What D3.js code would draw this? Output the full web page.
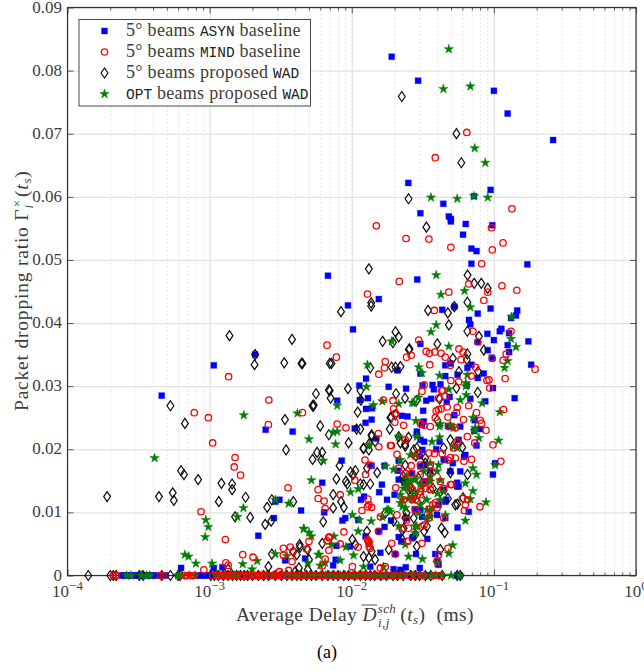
<!DOCTYPE html>
<html>
<head>
<meta charset="utf-8">
<script src="https://cdn.jsdelivr.net/npm/d3@7"></script>
<style>
  html, body { margin: 0; padding: 0; background: #fff; }
  text { font-family: "Liberation Serif", serif; }
  .mono { font-family: "Liberation Mono", monospace; }
</style>
</head>
<body>
<svg id="chart" width="644" height="671"></svg>
<script>
// [delay ms, dropping ratio]
const asynPoints = [
  [.0191,.0822],[.0293,.0784],[.1,.0768],[.125,.0732],[.261,.069],[.025,.0622],[.0948,.0611],[.0725,.0601],[.0441,.0589],[.0304,.0574],
  [.0482,.0569],[.0498,.0565],[.0498,.0561],[.0634,.0557],[.0975,.0555],[.0607,.054],[.0695,.0518],[.0755,.0514],[.0695,.0494],[.172,.0493],
  [.0068,.0475],[.0289,.0469],[.0155,.0438],[.0094,.0428],[.0102,.039],[.0304,.0367],[.021,.0325],[.0126,.0312],[.0113,.0301],[.0182,.0299],
  [.0241,.0296],[.0315,.0301],[.037,.0302],[.0421,.0303],[.0455,.0333],[.0455,.0316],[.0433,.0421],[.0527,.0426],[.0948,.0423],[.077,.0415],
  [.0668,.0405],[.0683,.0398],[.146,.042],[.143,.0412],[.132,.0408],[.113,.0391],[.11,.0387],[.09,.0383],[.128,.0384],[.1,.0373],
  [.077,.037],[.175,.0371],[.125,.0365],[.0905,.0357],[.128,.0354],[.0967,.0345],[.183,.0334],[.0494,.0336],[.0695,.0334],[.0651,.0329],
  [.0848,.032],[.077,.0313],[.0555,.0318],[.0645,.0301],[.0985,.0297],[.14,.0281],[.0304,.032],[.0378,.0295],[.087,.0276],[.0683,.028],
  [.0488,.0283],[.0362,.028],[.0334,.0277],[.0466,.0275],[.013,.0281],[.0114,.0278],[.0079,.0277],[.0126,.0264],[.0139,.0265],[.0318,.0261],
  [.0225,.0253],[.0247,.0252],[.0527,.0254],[.0321,.0244],[.0138,.0247],[.0125,.0242],[.0733,.0246],[.0802,.0232],[.0727,.0229],[.058,.0236],
  [.0475,.0237],[.0312,.0239],[.0287,.0228],[.0287,.0223],[.0105,.0233],[.0149,.0217],[.0304,.0215],[.0415,.0212],[.0565,.0215],[.0755,.0206],
  [.0393,.02],[.0314,.0199],[.0301,.0189],[.063,.0191],[.0443,.0184],[.0514,.0178],[.0616,.0188],[.0214,.0182],[.0085,.0182],[.102,.0178],
  [.0985,.016],[.058,.0165],[.0494,.0165],[.0138,.0174],[.017,.0174],[.0211,.0166],[.0304,.0173],[.0357,.0166],[.0329,.0149],[.0214,.0152],
  [.0163,.0144],[.0156,.0132],[.02,.0128],[.0552,.0147],[.0565,.0141],[.0443,.0136],[.0462,.012],[.0116,.012],[.0122,.0125],[.0177,.012],
  [.0278,.0105],[.0243,.0091],[.0189,.0087],[.017,.0077],[.0156,.007],[.009,.0091],[.0086,.0087],[.0111,.0088],[.0665,.0101],[.0555,.0076],
  [.0455,.0091],[.027,.0061],[.034,.0058],[.0125,.0062],[.0214,.0061],[.0223,.0054],[.0097,.0046],[.0078,.0047],[.0159,.0036],[.0201,.0034],
  [.0283,.0034],[.0387,.0034],[.0135,.0014],[.0074,.0016],[.0077,.0025],[.0197,.001],[.022,.0009],[.024,.0013],[.0301,.0012],[.0402,.0022],
  [.00046,.0285],[.00107,.0333],[.00209,.035],[.00248,.0231],[.00384,.0228],[.0062,.0147],[.0064,.01],[.0044,.0103],[.0031,.012],[.0029,.0117],
  [.00283,.0091],[.0022,.0063],[.0047,.0027],[.0034,.0024],[.00123,.0013],[.00107,.0012],[.00063,.0012],
  [.0323,.0212],[.0455,.0183],[.0323,.0175],[.0266,.0162],[.0238,.0149],[.0552,.0141],[.0455,.0117],[.0408,.0112],[.0304,.0104],[.028,.0104],
  [.0312,.0093],[.0398,.0096],[.0266,.0059],[.0408,.0017]
]
const asynZero = [
  .00024,.00025,.00026,.00027,.00028,.0003,.00031,.00033,.00034,.00036,.00038,.0004,.00042,.00047,.00049,.00083,.00088,.00092,.00097,.00102,
  .00108,.00115,.00122,.0013,.00138,.00145,.00155,.00165,.00175,.00185,.00195,.0021,.0022,.0024,.0026,.0028,.003,.0032,.0034,.0036,
  .0038,.0041,.0044,.0047,.005,.0053,.0057,.006,.0064,.0068,.0072,.0077,.0082,.0088,.0094,.01,.0106,.0112,.0119,.0126,
  .0134,.0142,.0151,.0165,.018,.0195,.021,.023,.026,.029,.034,.0395,.055,.057
]

const mindPoints = [
  [.0645,.0702],[.0387,.0662],[.134,.0581],[.0149,.0554],[.0241,.0534],[.0349,.0533],[.0498,.052],[.0962,.0551],[.116,.0527],[.0975,.0516],
  [.082,.0494],[.0216,.0466],[.0665,.0462],[.114,.0459],[.145,.0452],[.0482,.0449],[.0129,.0446],[.0905,.0449],[.085,.0436],[.0381,.042],
  [.0067,.0365],[.0078,.0346],[.0296,.0373],[.0262,.0349],[.0243,.0346],[.0172,.0339],[.017,.0329],[.0155,.0319],[.0354,.0334],[.0334,.0355],
  [.0352,.0352],[.0384,.0354],[.0425,.0352],[.0455,.0346],[.0323,.0302],[.0712,.0387],[.132,.0387],[.0772,.037],[.0568,.0359],[.0607,.0354],
  [.122,.0351],[.0975,.0344],[.116,.0341],[.0588,.0342],[.0494,.0333],[.0745,.033],[.12,.0312],[.0693,.0316],[.0893,.0309],[.0925,.031],
  [.0565,.0307],[.0498,.0309],[.0429,.0293],[.0935,.0297],[.195,.0327],[.117,.0263],[.112,.0181],[.0985,.0207],[.0798,.0109],[.0697,.0184],
  [.088,.023],[.0802,.0246],[.0755,.0258],[.0733,.021],[.0651,.022],[.0611,.0247],[.0665,.0269],[.0546,.0258],[.0469,.0267],[.0475,.0251],
  [.0455,.0284],[.0408,.0263],[.0387,.025],[.0437,.0293],[.0312,.0292],[.0167,.0278],[.0195,.0277],[.0197,.0264],[.0203,.0257],[.0201,.0243],
  [.0232,.0238],[.0154,.0225],[.0155,.0204],[.0187,.0206],[.0091,.0234],[.0079,.024],[.0124,.0183],[.0135,.0175],[.0208,.0192],[.0238,.0215],
  [.0295,.0194],[.0349,.0194],[.0381,.0193],[.0475,.0183],[.0494,.0187],[.0616,.0181],[.0262,.0162],[.0214,.017],[.0125,.016],[.0105,.0151],
  [.0083,.0128],[.013,.0121],[.0118,.0103],[.0129,.0109],[.0204,.0139],[.0304,.0133],[.0357,.0137],[.042,.0149],[.0505,.0144],[.06,.0122],
  [.0653,.012],[.062,.0103],[.0387,.0115],[.0349,.0105],[.0266,.012],[.0208,.0096],[.0159,.0093],[.028,.0104],[.0443,.0091],[.0312,.0078],
  [.0251,.0075],[.0154,.007],[.0088,.0069],[.0129,.0057],[.0132,.0051],[.0133,.0045],[.0191,.0051],[.0247,.0054],[.0312,.0051],[.0475,.0043],
  [.0203,.0034],[.0408,.0033],[.0398,.0023],[.0101,.0014],[.0159,.0012],[.007,.0061],[.00136,.0315],[.00261,.0278],[.00259,.0239],[.0045,.0258],
  [.00078,.0258],[.00098,.025],[.00105,.021],[.00151,.0187],[.00149,.0172],[.00165,.0159],[.00356,.0139],[.0058,.0136],[.0058,.0122],[.0064,.0118],
  [.0065,.0106],[.00087,.0101],[.00129,.0057],[.00171,.0033],[.00202,.0029],[.0013,.002],[.00135,.0016],[.00091,.0009],[.0033,.0043],[.0037,.0045],
  [.0033,.0032],[.00385,.0038],[.0038,.0022],[.0048,.0042],[.005,.0054],[.0067,.0055],[.0069,.0061],[.0069,.004],[.0065,.0026],[.0062,.0015],
  [.0031,.0006],[.0036,.0008],
  [.0408,.0281],[.0393,.0261],[.0425,.0264],[.0552,.0266],[.082,.0241],[.0482,.0236],[.0535,.0234],[.0304,.0241],[.0323,.0238],[.0357,.0236],
  [.0552,.0212],[.052,.0202],[.0433,.0193],[.0535,.0186],[.028,.0189],[.0262,.0174],[.0238,.0162],[.0304,.0175],[.0357,.0175],[.0372,.0164],
  [.0304,.016],[.0349,.015],[.0323,.0146],[.0262,.0139],[.0304,.0128],[.0329,.0138],[.0357,.0136],[.0443,.0138],[.0494,.0144],[.063,.0112],
  [.0372,.0112],[.0398,.0107],[.028,.012],[.0232,.012],[.0349,.0091],[.0323,.008],[.0243,.0088],[.0227,.0075],[.019,.0206],[.0132,.0112],
  [.0138,.0108],[.0069,.006],[.0083,.005],[.0111,.0045],[.0135,.0043],[.0132,.0054],[.0172,.0014]
]
const mindZero = [
  .00021,.00022,.00045,.00047,.00067,.0007,.00073,.00077,.00105,.00112,.00118,.00124,.0013,.00135,.0014,.00146,.00155,.00165,.00172,.00185,
  .002,.0021,.00225,.0024,.0026,.0028,.003,.0032,.0035,.0038,.0041,.0044,.0048,.0052,.0057,.0062,.0068,.0075,.0082,.009,
  .0098,.0108,.0118,.0126,.0138,.015,.0165,.0185,.0205,.0225,.0255,.028,.032,.038,.042
]

const wadPoints = [
  [.0225,.0759],[.0545,.07],[.059,.0654],[.0251,.0597],[.0335,.0552],[.0132,.0486],[.0653,.0476],[.0727,.0463],[.0815,.0463],[.0905,.0455],
  [.0651,.0433],[.0527,.0426],[.0344,.042],[.0475,.0416],[.0482,.0397],[.0651,.0387],[.0785,.0379],[.04,.0367],[.085,.0357],[.0515,.0344],
  [.0651,.0351],[.0645,.0342],[.0255,.0359],[.0568,.0323],[.0775,.0323],[.022,.0331],[.0137,.0432],[.0137,.0427],[.0084,.0418],[.0045,.0336],
  [.0072,.0336],[.0203,.0386],[.0214,.0378],[.0195,.0369],[.0165,.0371],[.0252,.0358],[.0191,.033],[.0203,.033],[.0135,.0329],[.0069,.0294],
  [.0094,.0296],[.0056,.0288],[.007,.0293],[.0071,.0281],[.0053,.0269],[.00535,.0268],[.0054,.027],[.006,.0237],[.0069,.0223],[.011,.0259],
  [.0108,.0232],[.0115,.0232],[.0095,.021],[.0057,.0195],[.0062,.0195],[.0053,.0184],[.0061,.0183],[.0082,.0174],[.0121,.0201],[.0132,.0199],
  [.0138,.0223],[.0146,.0212],[.0187,.025],[.0185,.0232],[.0203,.0255],[.0098,.0164],[.0102,.016],[.0106,.0166],[.0091,.0149],[.0093,.0145],
  [.0078,.0153],[.0074,.0128],[.0084,.0117],[.0088,.0108],[.0074,.0107],[.0063,.0085],[.0115,.0145],[.0121,.0144],[.0135,.0145],[.0151,.0163],
  [.0128,.017],[.0101,.0057],[.0106,.0049],[.0121,.003],[.0132,.0028],[.0138,.0038],[.0146,.0025],[.0043,.0049],[.0049,.0041],[.005,.0025],
  [.00138,.038],[.0038,.0374],[.00207,.0334],[.00335,.0337],[.00443,.0336],[.007,.0336],[.00209,.035],[.00053,.0269],[.00067,.0241],[.00339,.0247],
  [.00345,.0199],[.00063,.0166],[.00066,.016],[.00083,.0152],[.00121,.0146],[.00144,.0145],[.00144,.0136],[.00019,.0125],[.00044,.0125],[.00055,.0131],
  [.00056,.0119],[.00116,.0117],[.00179,.0124],[.00151,.0093],[.00193,.0092],[.00254,.0108],[.00274,.012],[.00388,.0117],[.00246,.0081],[.00271,.0086],
  [.0062,.0051],[.00274,.0034],[.00433,.0045],[.00388,.0038],[.0041,.0033],[.00259,.0014],[.00425,.0012],[.004,.0006],[.0049,.0009],[.00135,.001],
  [.0115,.0293],[.0205,.0288],[.0237,.0281],[.0285,.0277],[.0415,.028],[.0545,.0297],[.077,.029],[.04,.0246],[.019,.0251],[.0116,.0278],
  [.0138,.0221],[.0251,.0219],[.0237,.0208],[.0214,.022],[.0121,.0202],[.0133,.0209],[.0283,.0189],[.0273,.0199],[.0329,.0178],[.06,.0203],
  [.0251,.0136],[.023,.0157],[.0494,.0163],[.0552,.0113],[.0607,.0123],[.0428,.0075],[.0451,.0068],[.0338,.0078],[.0227,.0072],[.0128,.007],
  [.0197,.0086],[.0172,.0099],[.0182,.0041],[.042,.0041],[.0287,.0046],[.0653,.016],[.0535,.0112],
  [.022,.021],[.0238,.0205],[.0287,.0202],[.0329,.0186],[.0443,.0202],[.0494,.0215],[.0565,.021],[.0238,.0175],[.0232,.0149],[.0258,.0138],
  [.0273,.0125],[.0295,.0154],[.0357,.016],[.042,.0133],[.0475,.0122],[.0372,.0138],[.0312,.0122],[.0238,.0091],[.0273,.0091],[.0232,.0075],
  [.0227,.0057],[.028,.0065],[.0323,.007],[.0243,.0099]
]
const wadZero = [
  .00014,.0002,.00021,.00022,.00032,.00034,.00046,.00053,.0006,.00062,.00102,.00108,.00115,.00125,.00135,.00145,.00155,.00165,.00175,.00185,
  .002,.0022,.0024,.0026,.0029,.0032,.0035,.0038,.0041,.0044,.0048,.0052,.0056,.0062,.0068,.0074,.008,.0088,.0095,.0105,
  .0115,.0125,.0135,.0145,.016,.0175,.0195,.021,.023,.026,.028,.03,.033,.036,.0433,.0552,.058
]

const optPoints = [
  [.0482,.0834],[.0441,.0771],[.0683,.0775],[.0733,.0677],[.087,.0654],[.0361,.0599],[.0552,.0597],[.0725,.0601],[.0905,.0599],[.0393,.0476],
  [.0622,.0451],[.0424,.0445],[.0393,.0397],[.0361,.0386],[.0191,.0371],[.0482,.0363],[.0129,.0334],[.0296,.033],[.0312,.0321],[.0415,.0317],
  [.0127,.0299],[.0482,.0295],[.0683,.0425],[.133,.041],[.132,.0375],[.143,.0362],[.125,.034],[.119,.0329],[.0651,.0318],[.0635,.0305],
  [.0635,.03],[.0639,.0286],[.0295,.0282],[.0266,.0274],[.0164,.0276],[.0142,.027],[.058,.0278],[.0826,.0273],[.0214,.0272],[.0079,.0269],
  [.11,.0259],[.0712,.025],[.0733,.0229],[.0785,.0218],[.108,.0214],[.0415,.0236],[.052,.0234],[.0283,.0245],[.0214,.022],[.0133,.0207],
  [.0077,.0208],[.0074,.0227],[.0287,.022],[.0367,.0212],[.052,.0204],[.0258,.0191],[.0357,.0178],[.0172,.0173],[.022,.0183],[.102,.0175],
  [.0712,.017],[.0755,.016],[.063,.0146],[.0712,.0134],[.0683,.0121],[.088,.0116],[.0443,.0133],[.042,.012],[.0098,.0132],[.0111,.0137],
  [.0182,.0104],[.0227,.012],[.0273,.0152],[.0357,.0149],[.0243,.0146],[.0197,.0168],[.0164,.0093],[.0137,.0086],[.0101,.0096],[.0111,.007],
  [.0287,.0078],[.063,.0087],[.0338,.0091],[.0455,.0096],[.028,.0067],[.0514,.0048],[.0482,.0035],[.0314,.0026],[.0251,.003],[.0132,.0051],
  [.0091,.0045],[.0103,.0032],[.0083,.0024],[.0121,.0014],[.0167,.0014],[.0072,.0049],[.04,.002],[.005,.0216],[.0079,.0228],[.0052,.0151],
  [.0063,.0182],[.0113,.0088],[.0046,.0074],[.005,.0068],[.0052,.0062],[.0075,.0062],[.0059,.0033],[.0049,.002],[.00174,.0254],[.00415,.0257],
  [.00041,.0186],[.0029,.012],[.0036,.0114],[.00173,.0107],[.00157,.0093],[.00094,.0088],[.00098,.0077],[.00093,.0061],[.00067,.0033],[.00071,.003],
  [.0008,.0019],[.00104,.0019],[.00171,.0018],[.00216,.0023],[.00199,.001],[.0029,.0034],[.0035,.0031],[.0046,.0074],[.0058,.0033],[.0065,.002],
  [.006,.0016],
  [.0273,.0273],[.074,.0234],[.0415,.0219],[.042,.024],[.0494,.0239],[.0552,.0202],[.0408,.0175],[.0398,.0165],[.028,.0191],[.0243,.0157],
  [.0258,.0149],[.028,.0152],[.0304,.0144],[.0232,.0138],[.022,.0128],[.0251,.0122],[.0338,.012],[.0304,.0112],[.028,.0078],[.0238,.0107],
  [.022,.0115],[.0357,.0101],[.0238,.0049],
  [.0177,.0104],[.0266,.0125],[.0338,.0104],[.0357,.0093],[.0227,.0109],[.0187,.0101],[.0251,.0138],[.0323,.0165],[.0357,.0157],[.04,.013],
  [.042,.0151],[.0214,.0078],[.0372,.0107],[.0295,.0099],[.0273,.012],[.0238,.0141],[.0312,.0141],[.028,.0133]
]
const optZero = [
  .00026,.00028,.00033,.00036,.00038,.0006,.00064,.00072,.00079,.00112,.0012,.00128,.0014,.0015,.0016,.0018,.002,.0023,.0025,.0028,
  .0031,.0034,.0037,.004,.0043,.0047,.0051,.0055,.006,.0065,.007,.0076,.0083,.009,.0097,.0105,.0112,.012,.0128,.0136,
  .0148,.016,.0172,.019,.02,.022,.024,.027,.03,.033,.036,.039,.043,.05,.0575
]

// order here is the paint order, the reds sit on top in the picture
const series = [
  { name: 'asyn', points: asynPoints, zero: asynZero, marker: 'square' },
  { name: 'wad', points: wadPoints, zero: wadZero, marker: 'diamond' },
  { name: 'opt', points: optPoints, zero: optZero, marker: 'star' },
  { name: 'mind', points: mindPoints, zero: mindZero, marker: 'circle' }
]

const xMajor = [1e-4, 1e-3, 1e-2, 1e-1, 1]
const xMinor = xMajor.slice(0, 4).flatMap(d => d3.range(2, 10).map(m => m * d))
const yTicks = [0, 0.01, 0.02, 0.03, 0.04, 0.05, 0.06, 0.07, 0.08, 0.09]
const yTickLabels = ['0', '0.01', '0.02', '0.03', '0.04', '0.05', '0.06', '0.07', '0.08', '0.09']
const xExponents = ['\u22124', '\u22123', '\u22122', '\u22121', '0']

const plotLeft = 67.5
const plotRight = 636
const plotTop = 7.5
const plotBottom = 575.5
const axisColor = '#333'
const labelColor = '#3c3c3c'

const x = d3.scaleLog().domain([1e-4, 1]).range([plotLeft, plotRight])
const y = d3.scaleLinear().domain([0, 0.09]).range([plotBottom, plotTop])

const svg = d3.select('#chart')

// grid first so everything else sits on top
function gridAxis (axis, color, dash, width) {
  return g => {
    g.call(axis.tickFormat('').tickSizeOuter(0))
    g.select('.domain').remove()
    g.selectAll('line').attr('stroke', color).attr('stroke-width', width).attr('stroke-dasharray', dash)
  }
}

const plotH = plotBottom - plotTop
const plotW = plotRight - plotLeft

svg.append('g').attr('transform', `translate(0,${plotBottom})`)
  .call(gridAxis(d3.axisBottom(x).tickValues(xMinor).tickSizeInner(-plotH), '#cfcfcf', '1,3', 1))
svg.append('g').attr('transform', `translate(0,${plotBottom})`)
  .call(gridAxis(d3.axisBottom(x).tickValues(xMajor).tickSizeInner(-plotH), '#e2e2e2', null, 1.3))
svg.append('g').attr('transform', `translate(${plotLeft},0)`)
  .call(gridAxis(d3.axisLeft(y).tickValues(yTicks).tickSizeInner(-plotW), '#e2e2e2', null, 1.3))

// inward ticks on the four sides
function tickAxis (axis, len) {
  return g => {
    g.call(axis.tickFormat('').tickSizeOuter(0).tickSizeInner(-len))
    g.select('.domain').remove()
    g.selectAll('line').attr('stroke', axisColor).attr('stroke-width', 0.8)
  }
}

svg.append('g').attr('transform', `translate(0,${plotBottom})`).call(tickAxis(d3.axisBottom(x).tickValues(xMajor), 6))
svg.append('g').attr('transform', `translate(0,${plotBottom})`).call(tickAxis(d3.axisBottom(x).tickValues(xMinor), 3))
svg.append('g').attr('transform', `translate(0,${plotTop})`).call(tickAxis(d3.axisTop(x).tickValues(xMajor), 6))
svg.append('g').attr('transform', `translate(0,${plotTop})`).call(tickAxis(d3.axisTop(x).tickValues(xMinor), 3))
svg.append('g').attr('transform', `translate(${plotLeft},0)`).call(tickAxis(d3.axisLeft(y).tickValues(yTicks), 6))
svg.append('g').attr('transform', `translate(${plotRight},0)`).call(tickAxis(d3.axisRight(y).tickValues(yTicks), 6))

svg.append('rect')
  .attr('x', plotLeft)
  .attr('y', plotTop)
  .attr('width', plotW)
  .attr('height', plotH)
  .attr('fill', 'none')
  .attr('stroke', axisColor)
  .attr('stroke-width', 1.2)

// markers
const starPath = d3.symbol().type(d3.symbolStar).size(27)()
const markerDraw = {
  square: sel => sel.append('rect').attr('x', -3).attr('y', -3).attr('width', 6).attr('height', 6)
    .attr('fill', '#0000ff').attr('stroke', '#0000ff').attr('stroke-opacity', 0.3).attr('stroke-width', 1),
  circle: sel => sel.append('circle').attr('r', 3.2)
    .attr('fill', 'none').attr('stroke', '#ff0000').attr('stroke-width', 1.3),
  diamond: sel => sel.append('path').attr('d', 'M0,-5L3.4,0L0,5L-3.4,0Z')
    .attr('fill', 'none').attr('stroke', '#111').attr('stroke-width', 1.25),
  star: sel => sel.append('path').attr('d', starPath)
    .attr('fill', '#008000').attr('stroke', '#0a7a0a').attr('stroke-width', 0.5)
}

series.forEach(s => {
  const all = s.zero.map(d => [d, 0]).concat(s.points)
  svg.append('g')
    .attr('class', s.name)
    .selectAll('g')
    .data(all)
    .join('g')
    .attr('transform', d => `translate(${x(d[0])},${y(d[1])})`)
    .call(markerDraw[s.marker])
})

// tick labels
svg.append('g').selectAll('text')
  .data(yTicks)
  .join('text')
  .attr('x', plotLeft - 5.5)
  .attr('y', d => y(d) + 5)
  .attr('text-anchor', 'end')
  .attr('font-size', 17)
  .attr('fill', labelColor)
  .text((d, i) => yTickLabels[i])

const xLabels = svg.append('g').selectAll('text')
  .data(xMajor)
  .join('text')
  .attr('x', d => x(d))
  .attr('y', plotBottom + 21)
  .attr('text-anchor', 'middle')
  .attr('font-size', 17)
  .attr('fill', labelColor)
xLabels.append('tspan').text('10')
xLabels.append('tspan').attr('font-size', 13).attr('dy', -7).text((d, i) => xExponents[i])

// axis titles, pieces are [text, italic, size, dy, dx]
function addPieces (text, pieces) {
  pieces.forEach(p => {
    const t = text.append('tspan').attr('font-size', p[2]).text(p[0])
    if (p[1]) t.attr('font-style', 'italic')
    if (p[3]) t.attr('dy', p[3])
    if (p[4]) t.attr('dx', p[4])
  })
}

const xTitle = svg.append('text')
  .attr('x', 236)
  .attr('y', 621)
  .attr('fill', labelColor)
  .attr('letter-spacing', 0.4)
  .style('white-space', 'pre')
addPieces(xTitle, [
  ['Average Delay ', false, 19.5],
  ['D', true, 19.5],
  ['i,j', true, 13, 6, 1],
  ['sch', true, 13, -14, -12],
  ['(', false, 19.5, 8, 4],
  ['t', true, 19.5],
  ['s', true, 13, 3],
  [')', false, 19.5, -3],
  [' (ms)', false, 19.5, 0, 6]
])

// the bar over D, placed from where the glyph landed
const dBox = xTitle.selectAll('tspan').nodes()[1].getBBox()
svg.append('line')
  .attr('x1', dBox.x)
  .attr('x2', dBox.x + dBox.width)
  .attr('y1', 605)
  .attr('y2', 605)
  .attr('stroke', labelColor)
  .attr('stroke-width', 0.9)

const yTitle = svg.append('text')
  .attr('transform', 'translate(27.5,411) rotate(-90)')
  .attr('fill', labelColor)
  .attr('letter-spacing', 0.8)
  .style('white-space', 'pre')
addPieces(yTitle, [
  ['Packet dropping ratio ', false, 19.5],
  ['\u0393', false, 19.5],
  ['i', true, 13, 5],
  ['\u00d7', false, 13, -12, -3],
  ['(', false, 19.5, 7, 2],
  ['t', true, 19.5],
  ['s', true, 13, 3],
  [')', false, 19.5, -3]
])

svg.append('text')
  .attr('x', 327)
  .attr('y', 658)
  .attr('text-anchor', 'middle')
  .attr('font-size', 18)
  .attr('fill', '#000')
  .text('(a)')

// legend
const legendRows = [
  { marker: 'square', pieces: [['5\u00b0 beams '], ['ASYN', true], [' baseline']] },
  { marker: 'circle', pieces: [['5\u00b0 beams '], ['MIND', true], [' baseline']] },
  { marker: 'diamond', pieces: [['5\u00b0 beams proposed '], ['WAD', true]] },
  { marker: 'star', pieces: [['OPT', true], [' beams proposed '], ['WAD', true]] }
]

const legend = svg.append('g').attr('transform', 'translate(79,19.5)')
legend.append('rect')
  .attr('width', 231.5)
  .attr('height', 86.5)
  .attr('fill', '#fff')
  .attr('stroke', axisColor)
  .attr('stroke-width', 0.9)

const legendItems = legend.selectAll('g.item')
  .data(legendRows)
  .join('g')
  .attr('class', 'item')
  .attr('transform', (d, i) => `translate(0,${11.5 + i * 21})`)

legendItems.each(function (d) {
  const item = d3.select(this)
  const markerGroup = item.append('g').attr('transform', 'translate(25.5,0)')
  markerDraw[d.marker](markerGroup)
  const text = item.append('text')
    .attr('x', 47)
    .attr('y', 5)
    .attr('font-size', 18)
    .attr('fill', labelColor)
    .attr('letter-spacing', 0.3)
    .style('white-space', 'pre')
  d.pieces.forEach(p => {
    const t = text.append('tspan').text(p[0])
    if (p[1]) t.attr('class', 'mono').attr('font-size', 14.5).attr('fill', '#222').attr('letter-spacing', 0)
  })
})
</script>
</body>
</html>
